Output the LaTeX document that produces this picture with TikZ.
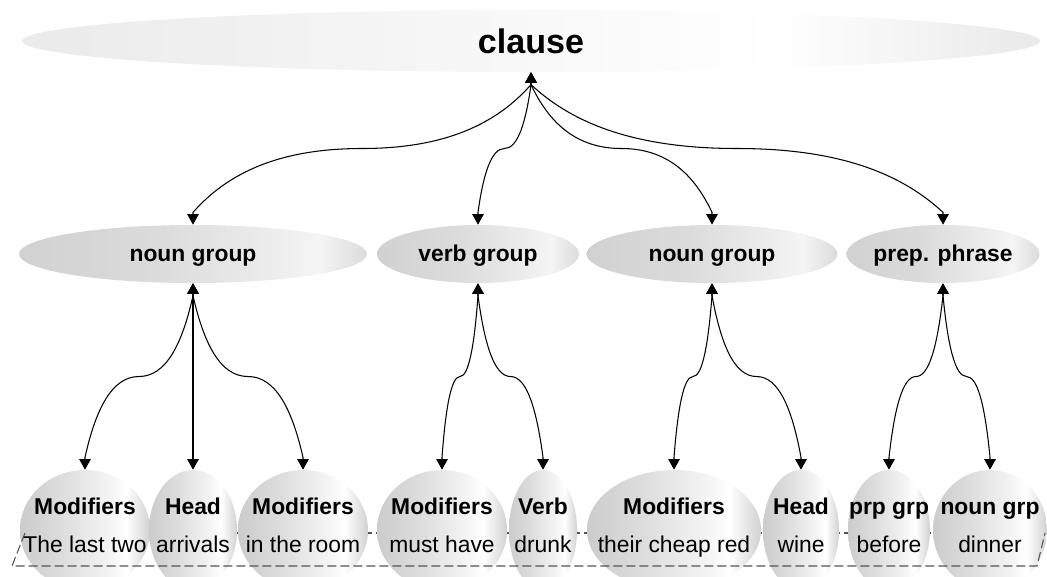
\documentclass[tikz,border=0pt]{standalone}
\usepackage{fontspec}
\setmainfont{Liberation Sans}
\usetikzlibrary{shapes.geometric,arrows.meta,calc}
\definecolor{tA}{gray}{0.92}
\definecolor{tB}{gray}{0.975}
\definecolor{tC}{gray}{0.915}
\definecolor{mA}{gray}{0.82}
\definecolor{mB}{gray}{0.86}
\definecolor{mC}{gray}{0.93}
\definecolor{mD}{gray}{0.96}
\definecolor{mE}{gray}{0.86}
\definecolor{bA}{gray}{0.80}
\definecolor{bB}{gray}{0.87}
\definecolor{bC}{gray}{0.96}
\definecolor{bE}{gray}{0.82}
\definecolor{planecol}{gray}{0.33}
\pgfdeclarehorizontalshading{topshade}{100bp}{color(0bp)=(tA); color(25bp)=(tA); color(50bp)=(tB); color(62bp)=(white); color(75bp)=(tC); color(100bp)=(tC)}
\pgfdeclarehorizontalshading{midshade}{100bp}{color(0bp)=(mA); color(25bp)=(mA); color(45bp)=(mB); color(62bp)=(mC); color(68bp)=(mD); color(75bp)=(mE); color(100bp)=(mE)}
\pgfdeclarehorizontalshading{bubshade}{100bp}{color(0bp)=(bA); color(25bp)=(bA); color(42bp)=(bB); color(60bp)=(bC); color(66bp)=(white); color(75bp)=(bE); color(100bp)=(bE)}
\tikzset{
  topell/.style={ellipse, shade, shading=topshade, inner sep=0pt, minimum width=20.36cm, minimum height=1.24cm},
  midell/.style={ellipse, shade, shading=midshade, inner sep=0pt, minimum height=1.16cm},
  bubble/.style={ellipse, shade, shading=bubshade, inner sep=0pt, minimum height=2.4cm},
  toptext/.style={anchor=base, inner sep=0pt, font=\bfseries\fontsize{19.4}{22}\selectfont},
  midtext/.style={anchor=base, inner sep=0pt, font=\bfseries\fontsize{13}{15}\selectfont},
  boldtext/.style={anchor=base, inner sep=0pt, font=\bfseries\fontsize{13}{15}\selectfont},
  plaintext/.style={anchor=base, inner sep=0pt, font=\fontsize{13}{15}\selectfont},
  link/.style={line width=0.6pt, {Triangle[width=0.23cm,length=0.21cm]}-{Triangle[width=0.23cm,length=0.21cm]}},
  plane/.style={draw=planecol, line width=0.6pt, dash pattern=on 0.18cm off 0.08cm}
}
\newcommand\archlink[2]{%
  \draw[link] let \p1=(#1), \p2=(#2), \p4=($(\p1)+(0pt,-7pt)$), \p5=($(\p2)+(0pt,7pt)$), \p3=($(\p4)!0.5!(\p5)$) in
    (\p1) -- (\p4)
    .. controls ($(\p4)+({0.2*(\x3-\x4)},{0.6*(\y3-\y4)})$) and ($(\p3)+({0.5*(\x4-\x3)},0pt)$) .. (\p3)
    .. controls ($(\p3)+({0.5*(\x5-\x3)},0pt)$) and ($(\p5)-({0.2*(\x5-\x3)},{0.6*(\y5-\y3)})$) .. (\p5)
    -- (\p2);}
\begin{document}
\begin{tikzpicture}[x=0.02cm,y=-0.02cm]
\clip (0,0) rectangle (1047,576);
\fill[white] (0,0) rectangle (1047,576);

% top
\node[topell] (clause) at (531,41) {};
\node[toptext] (clauset) at (531,53) {clause};

% middle
\node[midell, minimum width=6.96cm] (ng1) at (193,254) {};
\node[midell, minimum width=4.04cm] (vg) at (478,254) {};
\node[midell, minimum width=5.02cm] (ng2) at (712,254) {};
\node[midell, minimum width=3.86cm] (pp) at (943,254) {};
\node[midtext] (ng1t) at (193,261) {noun group};
\node[midtext] (vgt) at (478,261) {verb group};
\node[midtext] (ng2t) at (712,261) {noun group};
\node[midtext] (ppt) at (943,261) {prep. phrase};

% back edge of plane
\coordinate (tl) at (25,533);
\coordinate (tr) at (1045,533);
\coordinate (br) at (1037,566);
\coordinate (bl) at (12,566);
\draw[plane] (tl) -- (tr);

% bottom bubbles
\node[bubble, minimum width=2.6cm]  (b1) at (85,530) {};
\node[bubble, minimum width=1.76cm] (b2) at (193,530) {};
\node[bubble, minimum width=2.6cm]  (b3) at (303,530) {};
\node[bubble, minimum width=2.6cm]  (b4) at (442,530) {};
\node[bubble, minimum width=1.36cm] (b5) at (543,530) {};
\node[bubble, minimum width=3.48cm] (b6) at (674,530) {};
\node[bubble, minimum width=1.52cm] (b7) at (801,530) {};
\node[bubble, minimum width=1.64cm] (b8) at (889,530) {};
\node[bubble, minimum width=2.28cm] (b9) at (990,530) {};

% front edges of plane
\draw[plane] (tl) -- (bl) -- (br) -- (tr);

% bubble texts
\node[boldtext] (b1a) at (85,514) {Modifiers};
\node[plaintext] (b1b) at (85,552) {The last two};
\node[boldtext] (b2a) at (193,514) {Head};
\node[plaintext] (b2b) at (193,552) {arrivals};
\node[boldtext] (b3a) at (303,514) {Modifiers};
\node[plaintext] (b3b) at (303,552) {in the room};
\node[boldtext] (b4a) at (442,514) {Modifiers};
\node[plaintext] (b4b) at (442,552) {must have};
\node[boldtext] (b5a) at (543,514) {Verb};
\node[plaintext] (b5b) at (543,552) {drunk};
\node[boldtext] (b6a) at (674,514) {Modifiers};
\node[plaintext] (b6b) at (674,552) {their cheap red};
\node[boldtext] (b7a) at (801,514) {Head};
\node[plaintext] (b7b) at (801,552) {wine};
\node[boldtext] (b8a) at (889,514) {prp grp};
\node[plaintext] (b8b) at (889,552) {before};
\node[boldtext] (b9a) at (990,514) {noun grp};
\node[plaintext] (b9b) at (990,552) {dinner};

% connectors
\archlink{clause.south}{ng1.north}
\archlink{clause.south}{vg.north}
\archlink{clause.south}{ng2.north}
\archlink{clause.south}{pp.north}

\archlink{ng1.south}{b1.north}
\draw[link] (ng1.south) -- (b2.north);
\archlink{ng1.south}{b3.north}
\archlink{vg.south}{b4.north}
\archlink{vg.south}{b5.north}
\archlink{ng2.south}{b6.north}
\archlink{ng2.south}{b7.north}
\archlink{pp.south}{b8.north}
\archlink{pp.south}{b9.north}
\end{tikzpicture}
\end{document}
